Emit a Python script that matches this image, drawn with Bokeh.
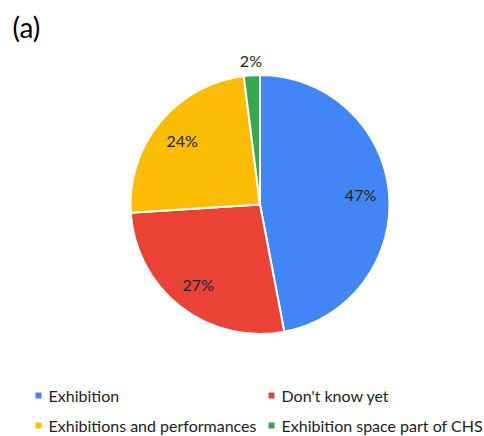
import math
from bokeh.plotting import figure
from bokeh.models import ColumnDataSource, Range1d
from bokeh.core.properties import value
from bokeh.embed import file_html
from bokeh.resources import INLINE

# ---- data ----
categories = ["Exhibition", "Don't know yet", "Exhibitions and performances", "Exhibition space part of CHS"]
values = [47, 27, 24, 2]
colors = ["#4285F4", "#EA4335", "#FBBC04", "#34A853"]
panel_label = "(a)"

FONT = "Lato"
W, H = 484, 436
cx, cy, R = 259.5, H - 204.0, 129.5

p = figure(width=W, height=H, output_backend="svg", toolbar_location=None,
           x_range=Range1d(0, W), y_range=Range1d(0, H), min_border=0)
p.axis.visible = False
p.grid.visible = False
p.outline_line_color = None
p.background_fill_color = "white"
p.border_fill_color = "white"

total = float(sum(values))
starts, ends, lx, ly, labels = [], [], [], [], []
cum = 0.0
for v in values:
    f0 = cum / total
    cum += v
    f1 = cum / total
    a0 = math.pi / 2 - 2 * math.pi * f0
    a1 = math.pi / 2 - 2 * math.pi * f1
    starts.append(a0)
    ends.append(a1)
    mid = (a0 + a1) / 2
    frac = v / total
    rr = R * 0.78 if frac >= 0.05 else R + 15
    lx.append(cx + rr * math.cos(mid))
    ly.append(cy + rr * math.sin(mid))
    labels.append(f"{round(frac * 100)}%")

src = ColumnDataSource(dict(x=[cx] * len(values), y=[cy] * len(values),
                            start=starts, end=ends, color=colors,
                            lx=lx, ly=ly, label=labels))
p.wedge(x="x", y="y", radius=R, radius_units="screen", start_angle="start", end_angle="end",
        direction="clock", fill_color="color", line_color="white", line_width=2, source=src)
p.text(x="lx", y="ly", text="label", source=src, text_align="center", text_baseline="middle",
       text_font=value(FONT), text_font_size="16px", text_color="#222222")

# panel label
p.text(x=[12], y=[H - 26], text=[panel_label], text_align="left", text_baseline="middle",
       text_font=value(FONT), text_font_size="28px", text_color="#000000")

# legend (2 columns)
col_x = [38, 271]
row_y = [H - 395, H - 425]
mx, my, tx, ty = [], [], [], []
for i in range(len(categories)):
    c = col_x[i % 2]
    r = row_y[i // 2]
    mx.append(c)
    my.append(r)
    tx.append(c + 10)
    ty.append(r)
lsrc = ColumnDataSource(dict(mx=mx, my=my, tx=tx, ty=ty, color=colors, name=categories))
p.rect(x="mx", y="my", width=6, height=6, width_units="screen", height_units="screen",
       fill_color="color", line_color=None, source=lsrc)
p.text(x="tx", y="ty", text="name", source=lsrc, text_align="left", text_baseline="middle",
       text_font=value(FONT), text_font_size="16px", text_color="#222222")

open("out.html", "w").write(file_html(p, INLINE))
